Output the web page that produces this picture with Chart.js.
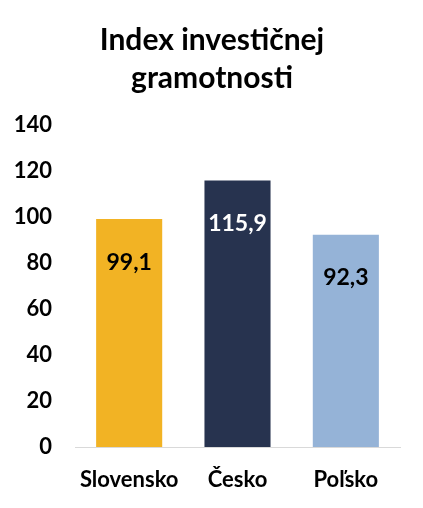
<!DOCTYPE html>
<html>
<head>
<meta charset="utf-8">
<style>
html,body{margin:0;padding:0;background:#fff;}
#wrap{width:423px;height:508px;position:relative;}
</style>
<script src="https://cdn.jsdelivr.net/npm/chart.js@4.4.0/dist/chart.umd.min.js"></script>
</head>
<body>
<div id="wrap"><canvas id="c" width="423" height="508"></canvas></div>
<script>
const categories = ["Slovensko", "Česko", "Poľsko"];
const values = [99.1, 115.9, 92.3];
const valueLabels = ["99,1", "115,9", "92,3"];
const barColors = ["#F2B324", "#27334F", "#95B3D7"];
const labelColors = ["#000000", "#FFFFFF", "#000000"];
const titleLines = ["Index investičnej", "gramotnosti"];
const yMin = 0, yMax = 140, yStep = 20;

const FONT = "Lato, 'Open Sans', sans-serif";

const labelPlugin = {
  id: 'barLabels',
  afterDatasetsDraw(chart) {
    const ctx = chart.ctx;
    const meta = chart.getDatasetMeta(0);
    ctx.save();
    ctx.font = "bold 23px " + FONT;
    ctx.textAlign = 'center';
    ctx.textBaseline = 'middle';
    meta.data.forEach((bar, i) => {
      ctx.fillStyle = labelColors[i];
      ctx.fillText(valueLabels[i], bar.x, bar.y + 43);
    });
    ctx.restore();
  }
};

new Chart(document.getElementById('c'), {
  type: 'bar',
  data: {
    labels: categories,
    datasets: [{
      data: values,
      backgroundColor: barColors,
      borderWidth: 0,
      barPercentage: 0.61,
      categoryPercentage: 1.0
    }]
  },
  options: {
    responsive: false,
    animation: false,
    devicePixelRatio: 1,
    layout: { padding: { top: 21, right: 0, bottom: 0, left: 1 } },
    plugins: {
      legend: { display: false },
      tooltip: { enabled: false },
      title: {
        display: true,
        text: titleLines,
        color: '#000',
        font: { family: FONT, size: 30, weight: 'bold', lineHeight: 1.267 },
        padding: { top: 0, bottom: 28 }
      }
    },
    scales: {
      x: {
        grid: { display: false, drawTicks: false },
        border: { display: true, color: '#D9D9D9', width: 1 },
        ticks: { color: '#000', font: { family: FONT, size: 22, weight: 'bold' }, padding: 20 },
        afterFit(scale) { scale.height = 61; }
      },
      y: {
        min: yMin, max: yMax,
        grid: { display: false, drawTicks: false },
        border: { display: false },
        ticks: { stepSize: yStep, color: '#000', font: { family: FONT, size: 22, weight: 'bold' }, padding: 23 },
        afterFit(scale) { scale.width = 74; }
      },
      yRight: {
        type: 'linear',
        position: 'right',
        min: yMin, max: yMax,
        grid: { display: false, drawTicks: false },
        border: { display: false },
        ticks: { display: false },
        afterFit(scale) { scale.width = 23; }
      }
    }
  },
  plugins: [labelPlugin]
});
</script>
</body>
</html>
